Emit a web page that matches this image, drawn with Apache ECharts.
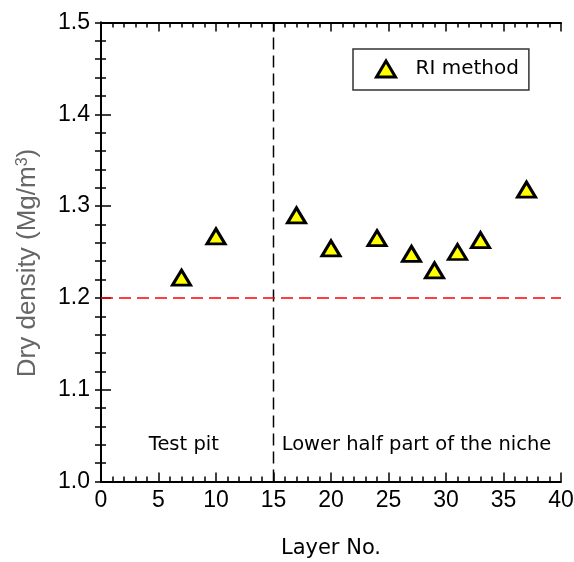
<!DOCTYPE html>
<html>
<head>
<meta charset="utf-8">
<script src="https://cdn.jsdelivr.net/npm/echarts@6/dist/echarts.min.js"></script>
<style>
  html, body { margin: 0; padding: 0; background: #fff; }
  #chart { width: 574px; height: 562px; }
</style>
</head>
<body>
<div id="chart"></div>
<script>
// Layer numbers and measured dry densities (RI method)
const layers = [7, 10, 17, 20, 24, 27, 29, 31, 33, 37];
const density = [1.222, 1.267, 1.290, 1.254, 1.265, 1.248, 1.230, 1.250, 1.263, 1.318];

// Reference lines: boundary between zones and the target density
const zoneBoundary = 15;
const targetDensity = 1.2;

// Zone captions placed in data coordinates
const zoneLabels = ['Test pit', 'Lower half part of the niche'];
const zoneLabelX = [7.2, 27.43];
const zoneLabelY = [1.040, 1.040];

const xTicks = { min: 0, max: 40, interval: 5 };
const yTicks = { min: 1.0, max: 1.5, interval: 0.1 };

const chart = echarts.init(document.getElementById('chart'), null, { renderer: 'canvas' });

const axisLine = { lineStyle: { color: '#000', width: 2 } };
function tickStyle(len, minorLen) {
  return {
    axisTick: { show: true, inside: true, length: len, lineStyle: { color: '#000', width: 1.5 } },
    minorTick: { show: true, splitNumber: 5, length: minorLen, lineStyle: { color: '#000', width: 1.5 } }
  };
}

const labelFont = '"Liberation Sans", Arial, sans-serif';

chart.setOption({
  animation: false,
  backgroundColor: '#fff',
  grid: { left: 101, right: 13, top: 22.5, bottom: 80.5, containLabel: false, outerBoundsMode: 'none' },
  legend: {
    data: ['RI method'],
    left: 353,
    top: 49,
    orient: 'vertical',
    padding: [10, 10, 11, 22],
    borderColor: '#333',
    borderWidth: 1.5,
    itemWidth: 19,
    itemHeight: 16,
    itemStyle: { borderWidth: 3, borderColor: '#000', color: '#ffff00' },
    textStyle: { fontFamily: 'DejaVu Sans', fontSize: 20, color: '#000', padding: [0, 0, 0, 15] }
  },
  xAxis: [
    Object.assign({
      type: 'value', position: 'bottom',
      min: xTicks.min, max: xTicks.max, interval: xTicks.interval,
      name: 'Layer No.', nameLocation: 'middle', nameGap: 57,
      nameTextStyle: { fontFamily: 'DejaVu Sans', fontSize: 21, color: '#000' },
      axisLine: axisLine,
      axisLabel: { margin: 8, fontFamily: labelFont, fontSize: 23, color: '#000' },
      splitLine: { show: false }
    }, tickStyle(9, 5)),
    Object.assign({
      type: 'value', position: 'top',
      min: xTicks.min, max: xTicks.max, interval: xTicks.interval,
      axisLine: axisLine,
      axisLabel: { show: false },
      splitLine: { show: false }
    }, tickStyle(9, 5))
  ],
  yAxis: [
    Object.assign({
      type: 'value', position: 'left',
      min: yTicks.min, max: yTicks.max, interval: yTicks.interval,
      name: 'Dry density (Mg/m{sup|3})', nameLocation: 'middle', nameGap: 60,
      nameTextStyle: {
        fontFamily: labelFont, fontSize: 26, color: '#666',
        padding: [0, 22, 0, 0],
        rich: { sup: { fontFamily: labelFont, fontSize: 16, color: '#666', verticalAlign: 'top', padding: [0, 0, 10, 0] } }
      },
      axisLine: axisLine,
      axisLabel: { margin: 11, fontFamily: labelFont, fontSize: 23, color: '#000',
        formatter: v => v.toFixed(1) },
      splitLine: { show: false }
    }, tickStyle(10, 5)),
    Object.assign({
      type: 'value', position: 'right',
      min: yTicks.min, max: yTicks.max, interval: yTicks.interval,
      axisLine: axisLine,
      axisLabel: { show: false },
      splitLine: { show: false }
    }, tickStyle(6, 6))
  ],
  series: [
    {
      name: 'zone boundary',
      type: 'line',
      symbol: 'none',
      silent: true,
      lineStyle: { color: '#000', type: [12, 6], width: 1.5 },
      data: [[zoneBoundary, yTicks.min], [zoneBoundary, yTicks.max]],
      z: 2
    },
    {
      name: 'target density',
      type: 'line',
      symbol: 'none',
      silent: true,
      lineStyle: { color: '#ff0000', type: [12, 6], width: 1.5 },
      data: [[xTicks.min, targetDensity], [xTicks.max, targetDensity]],
      z: 2
    },
    {
      name: 'RI method',
      type: 'scatter',
      xAxisIndex: 0, yAxisIndex: 0,
      symbol: 'triangle',
      symbolSize: [18, 15],
      itemStyle: { color: '#ffff00', borderColor: '#000', borderWidth: 3, opacity: 1 },
      data: layers.map((x, i) => [x, density[i]]),
      z: 5
    },
    {
      name: 'zones',
      type: 'scatter',
      xAxisIndex: 0, yAxisIndex: 0,
      symbol: 'circle',
      symbolSize: 1,
      silent: true,
      itemStyle: { color: '#fff', opacity: 1 },
      label: {
        show: true, position: 'inside',
        fontFamily: 'DejaVu Sans', fontSize: 19.5, color: '#000',
        textBorderWidth: 0, opacity: 1,
        formatter: p => p.name
      },
      data: zoneLabels.map((t, i) => ({ name: t, value: [zoneLabelX[i], zoneLabelY[i]] }))
    }
  ]
});
</script>
</body>
</html>
